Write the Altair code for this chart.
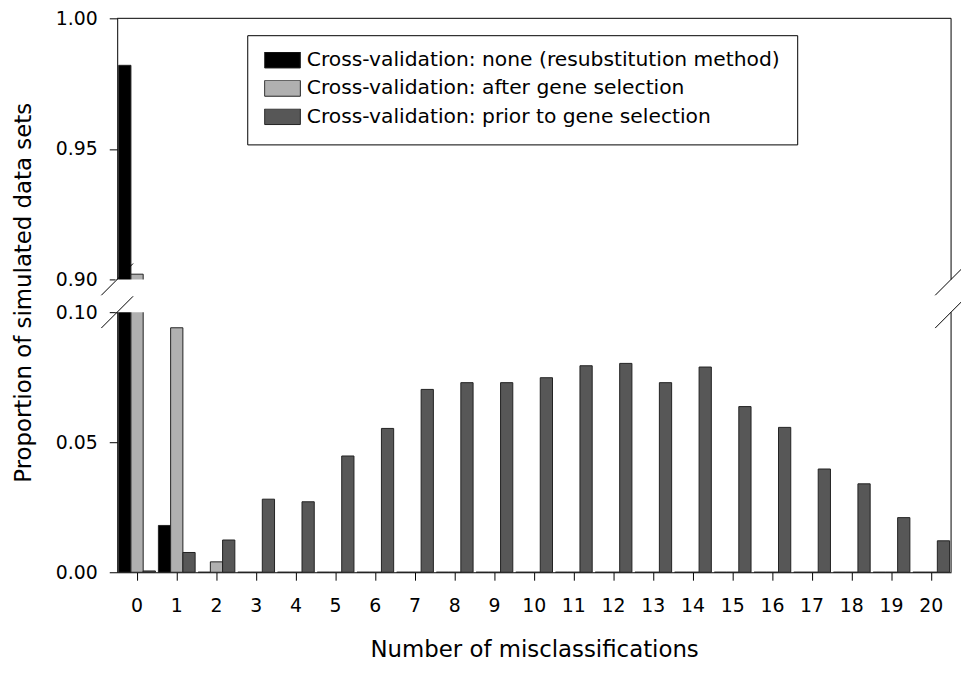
import altair as alt
import pandas as pd

# ---- data ----
misclassifications = [0, 1, 2, 3, 4, 5, 6, 7, 8, 9, 10, 11, 12, 13, 14, 15, 16, 17, 18, 19, 20]
series_names = [
    "Cross-validation: none (resubstitution method)",
    "Cross-validation: after gene selection",
    "Cross-validation: prior to gene selection",
]
none_vals = [0.982, 0.018, 0.0, 0.0, 0.0, 0.0, 0.0, 0.0, 0.0, 0.0, 0.0,
             0.0, 0.0, 0.0, 0.0, 0.0, 0.0, 0.0, 0.0, 0.0, 0.0]
after_vals = [0.902, 0.094, 0.004, 0.0, 0.0, 0.0, 0.0, 0.0, 0.0, 0.0, 0.0,
              0.0, 0.0, 0.0, 0.0, 0.0, 0.0, 0.0, 0.0, 0.0, 0.0]
prior_vals = [0.0005, 0.0076, 0.0124, 0.0281, 0.0271, 0.0447, 0.0553, 0.0703, 0.0729, 0.0729, 0.0748,
              0.0794, 0.0803, 0.0729, 0.0789, 0.0637, 0.0557, 0.0397, 0.0340, 0.0210, 0.0121]
y_ticks = [0.0, 0.05, 0.10, 0.90, 0.95, 1.00]
break_lo = [0.10]
break_hi = [0.90]
series_colors = ["#000000", "#b0b0b0", "#575757"]

rows = []
for name, vals in zip(series_names, [none_vals, after_vals, prior_vals]):
    for n, v in zip(misclassifications, vals):
        rows.append({"n": n, "series": name, "value": v})
df = pd.DataFrame(rows)

W, H = 840, 558
FONT = "DejaVu Sans"
Y_TITLE = "Proportion of simulated data sets"

y_scale = alt.Scale(domain=[0.0, break_lo[0], break_hi[0], 1.0],
                    range=[H, 296, 263, 0], nice=False, zero=False)

bars = alt.Chart(df).mark_bar(stroke="#222222", strokeWidth=1).encode(
    x=alt.X("n:O", sort=misclassifications,
            scale=alt.Scale(paddingInner=0.075, paddingOuter=0.0375),
            axis=alt.Axis(title="Number of misclassifications", labelAngle=0,
                          tickSize=8, labelPadding=17, titleX=420, titleY=85,
                          titleBaseline="alphabetic", titleAlign="center")),
    xOffset=alt.XOffset("series:N", sort=series_names),
    y=alt.Y("value:Q", scale=y_scale, title=Y_TITLE,
            axis=alt.Axis(values=y_ticks, format=".2f", tickSize=8, labelPadding=12,
                          grid=False, titleAngle=270, titleX=-94, titleY=276,
                          titleFontSize=23,
                          titleBaseline="middle", titleAlign="center")),
    color=alt.Color("series:N", sort=series_names,
                    scale=alt.Scale(domain=series_names, range=series_colors),
                    legend=alt.Legend(title=None, orient="none", legendX=131, legendY=17,
                                      fillColor="white", strokeColor="black", padding=17,
                                      symbolType="M-1,-0.444H1V0.444H-1Z", symbolSize=1296,
                                      symbolStrokeColor="#222222", symbolStrokeWidth=1,
                                      labelFont=FONT, labelFontSize=20.4, labelColor="black",
                                      labelLimit=800, labelOffset=6, clipHeight=16,
                                      rowPadding=7.5)),
)

brk = pd.DataFrame({"lo": break_lo, "hi": break_hi})

right_border = alt.Chart(pd.DataFrame({"a": [0.0], "b": [1.0]})).mark_rule(
    color="black", strokeWidth=1).encode(
    x=alt.value(W), y=alt.Y("a:Q", scale=y_scale, title=Y_TITLE), y2="b:Q")

top_border = alt.Chart(pd.DataFrame({"t": [1.0]})).mark_rule(
    color="black", strokeWidth=1).encode(
    y=alt.Y("t:Q", scale=y_scale, title=Y_TITLE), x=alt.value(0), x2=alt.value(W))

gap = alt.Chart(brk).mark_rect(color="white").encode(
    x=alt.value(-2), x2=alt.value(W + 12),
    y=alt.Y("hi:Q", scale=y_scale, title=Y_TITLE), y2="lo:Q")

slash_df = pd.DataFrame({"b": break_lo + break_hi})
slash_left = alt.Chart(slash_df).mark_rule(color="black", strokeWidth=1,
                                           yOffset=16, y2Offset=-16).encode(
    x=alt.value(-16), x2=alt.value(16),
    y=alt.Y("b:Q", scale=y_scale, title=Y_TITLE), y2="b:Q")
slash_right = alt.Chart(slash_df).mark_rule(color="black", strokeWidth=1,
                                            yOffset=16, y2Offset=-16).encode(
    x=alt.value(W - 16), x2=alt.value(W + 16),
    y=alt.Y("b:Q", scale=y_scale, title=Y_TITLE), y2="b:Q")

chart = alt.layer(bars, right_border, top_border, gap, slash_left, slash_right).properties(
    width=W, height=H,
    background="white",
    autosize=alt.AutoSizeParams(type="none"),
    padding={"left": 110, "top": 8, "right": 10, "bottom": 88},
).configure_view(stroke=None).configure_axis(
    domainColor="black", tickColor="black", labelColor="black", titleColor="black",
    labelFont=FONT, titleFont=FONT, labelFontSize=19, titleFontSize=23,
    titleFontWeight="normal", domainWidth=1, tickWidth=1,
)

chart.save("out.html", embed_options={"renderer": "svg", "actions": False})
